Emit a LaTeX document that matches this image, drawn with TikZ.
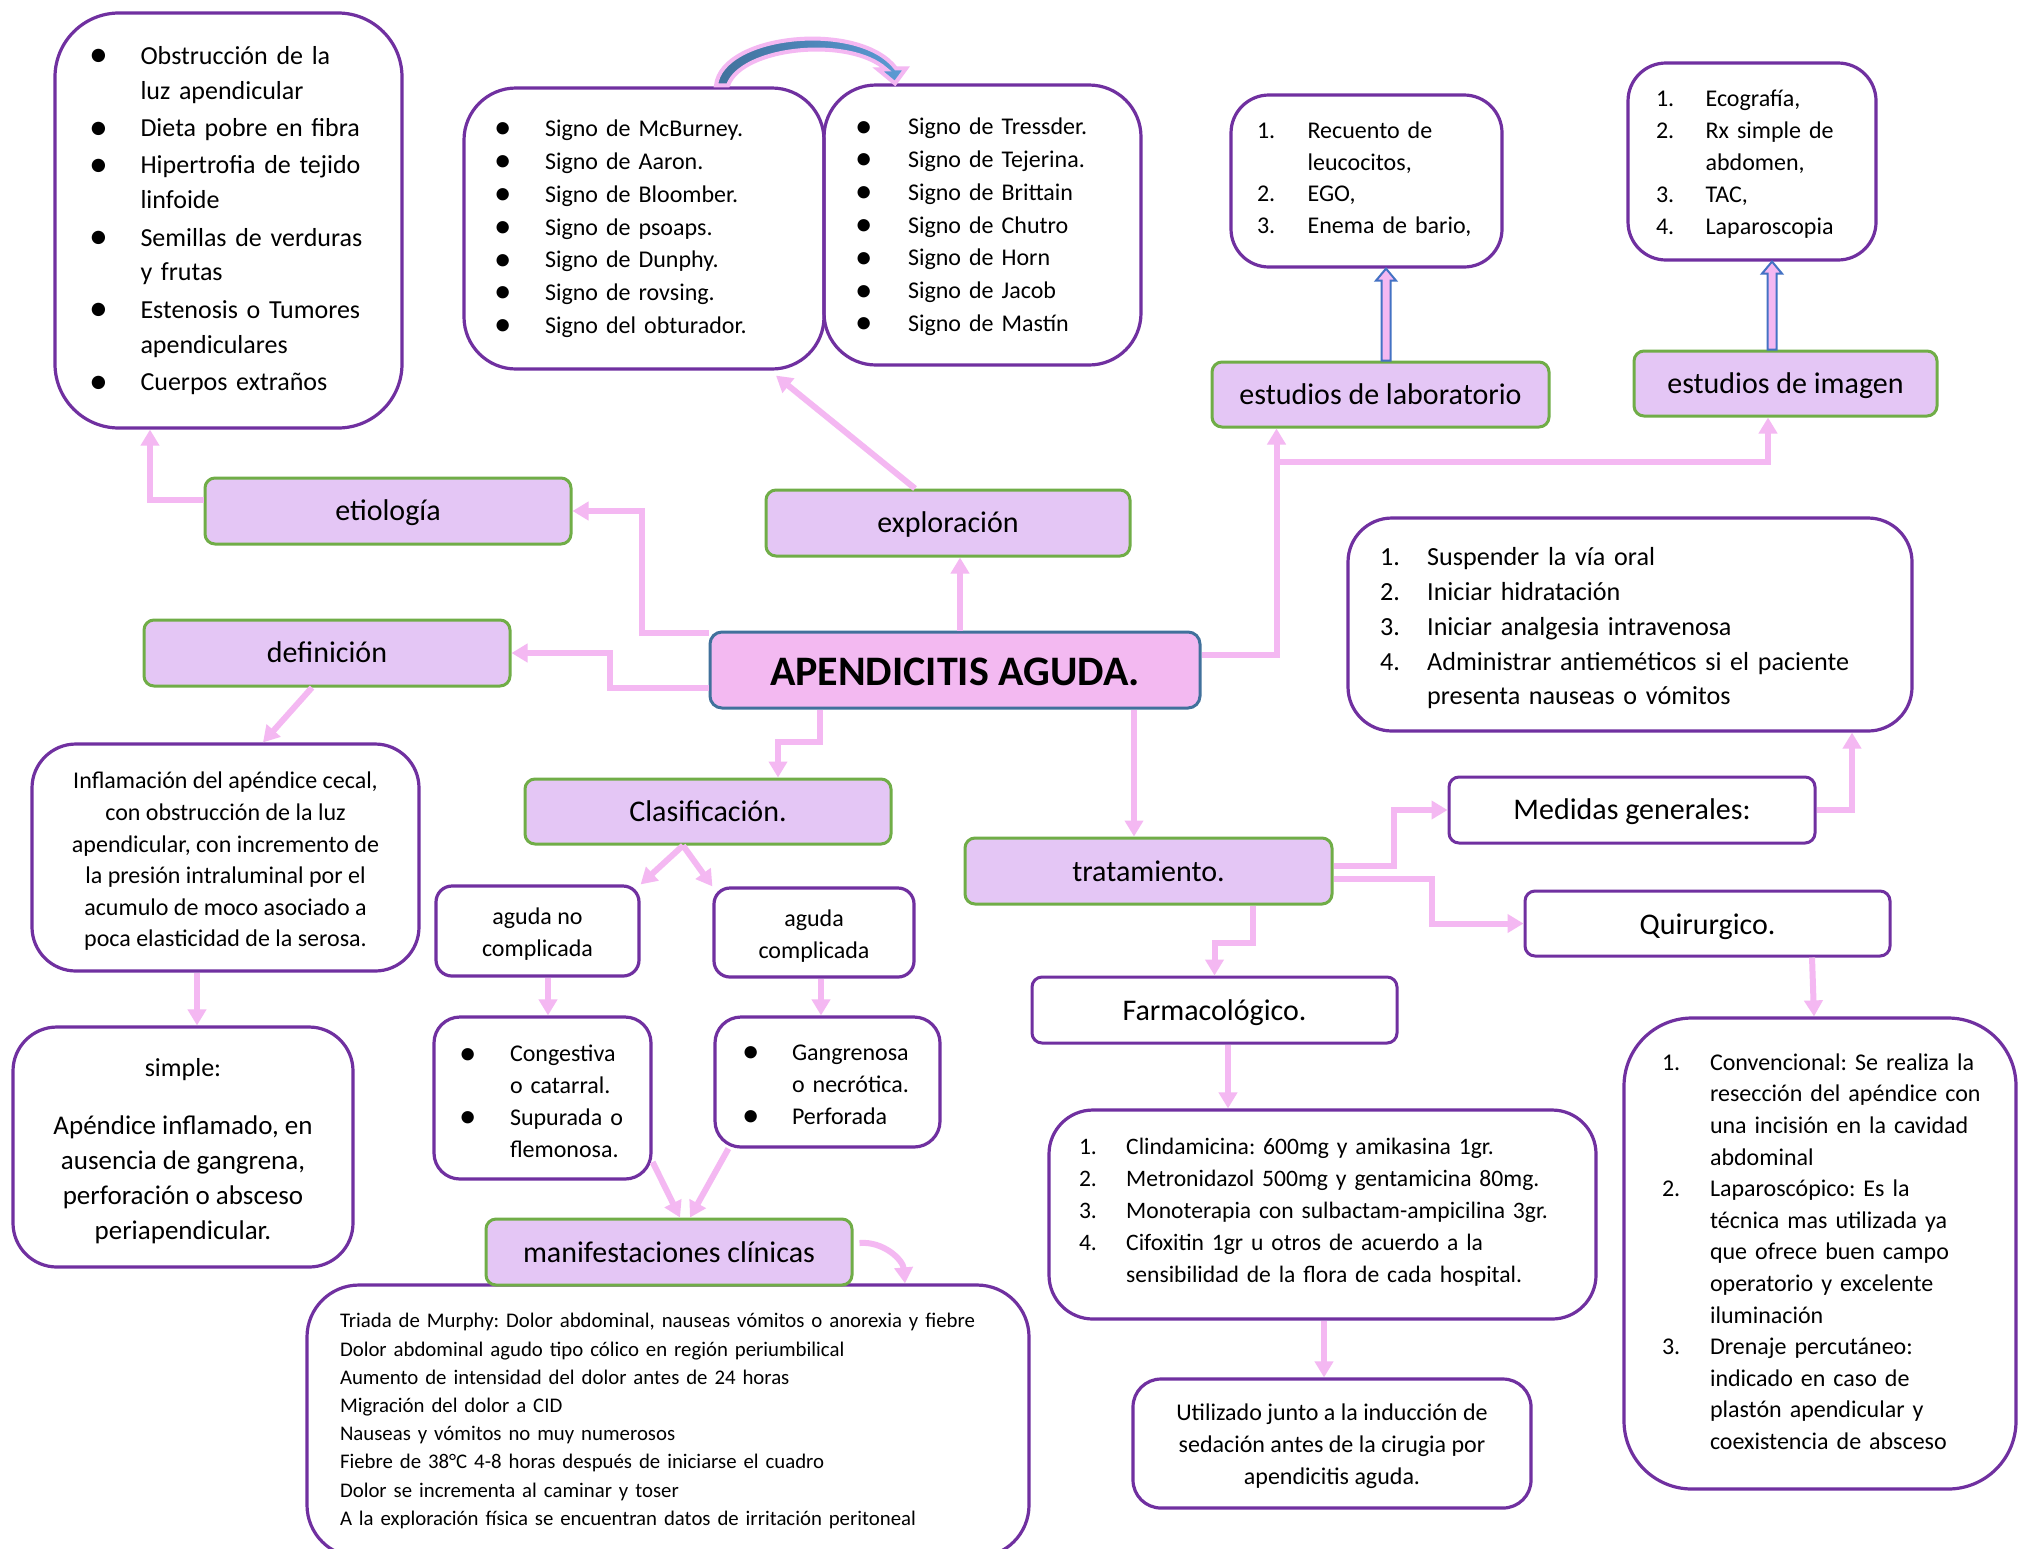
\documentclass[tikz,border=0pt]{standalone}
\usepackage{fontspec}
\setmainfont{Carlito}
\usetikzlibrary{arrows.meta,calc}
\frenchspacing

\definecolor{violeta}{HTML}{7030A0}
\definecolor{verde}{HTML}{70AD47}
\definecolor{lila}{HTML}{E4C6F5}
\definecolor{rosa}{HTML}{F3B9F1}
\definecolor{rosaflecha}{HTML}{F4B8F2}
\definecolor{azulborde}{HTML}{41719C}
\definecolor{azulflecha}{HTML}{4472C4}
\definecolor{azulA}{HTML}{41719C}
\definecolor{azulB}{HTML}{5B9BD5}

% large list bullet
\newcommand{\bul}{\raisebox{-0.2ex}{\scalebox{1.45}{•}}}
% content shifted vertically without changing its box size
\newcommand{\desp}[2]{\raisebox{#1}[\height][\depth]{#2}}
% centred block of lines
\newcommand{\bloquec}[2]{\desp{#1}{\begin{tabular}{@{}c@{}}#2\end{tabular}}}
% list with a marker column of given width
\newcommand{\bloquel}[3]{\desp{#1}{\begin{tabular}{@{}p{#2}@{}l@{}}#3\end{tabular}}}

\tikzset{
  cajalista/.style={draw=violeta, line width=1.6pt, rounded corners=#1, inner ysep=0pt, align=left},
  cajacentro/.style={draw=violeta, line width=1.6pt, rounded corners=#1, inner sep=0pt, align=center},
  tema/.style={draw=verde, fill=lila, line width=1.5pt, rounded corners=5pt, inner sep=0pt,
    font=\fontsize{15}{18}\selectfont},
  subtema/.style={draw=violeta, fill=white, line width=1.5pt, rounded corners=5pt, inner sep=0pt,
    font=\fontsize{15}{18}\selectfont},
  raiz/.style={draw=azulborde, fill=rosa, line width=1.5pt, rounded corners=6pt, inner sep=0pt,
    font=\bfseries\fontsize{21}{24}\selectfont},
  flecha/.style={draw=rosaflecha, line width=3pt, -{Triangle[width=9pt,length=8pt]}},
  bloque/.style={draw=azulflecha, fill=rosaflecha, line width=1pt, line join=miter},
}

\begin{document}
\begin{tikzpicture}[x=0.5pt, y=-0.5pt]
\useasboundingbox (0,0) rectangle (2021,1548);
\fill[white] (0,0) rectangle (2021,1548);

% ---------- text boxes ----------
\node[cajalista=32pt, minimum width=173.5pt, minimum height=207.5pt, inner xsep=17pt, text width=139.5pt,
      font=\fontsize{13}{17.4}\selectfont] (etioL) at (228.5,220.5) {%
\bloquel{0pt}{25.75pt}{%
\bul & Obstrucción de la\\ & luz apendicular\\[1.3pt]
\bul & Dieta pobre en fibra\\[1.3pt]
\bul & Hipertrofia de tejido\\ & linfoide\\[1.3pt]
\bul & Semillas de verduras\\ & y frutas\\[1.3pt]
\bul & Estenosis o Tumores\\ & apendiculares\\[1.3pt]
\bul & Cuerpos extraños}};

\node[cajalista=26pt, minimum width=180pt, minimum height=140.5pt, inner xsep=15pt, text width=150pt,
      font=\fontsize{12}{16.4}\selectfont] (sig1) at (644,228.5) {%
\bloquel{0pt}{25.5pt}{%
\bul & Signo de McBurney.\\
\bul & Signo de Aaron.\\
\bul & Signo de Bloomber.\\
\bul & Signo de psoaps.\\
\bul & Signo de Dunphy.\\
\bul & Signo de rovsing.\\
\bul & Signo del obturador.}};

\node[cajalista=26pt, minimum width=158.5pt, minimum height=140pt, inner xsep=15.5pt, text width=127.5pt,
      font=\fontsize{12}{16.4}\selectfont] (sig2) at (982.5,225) {%
\bloquel{-0.8pt}{26.5pt}{%
\bul & Signo de Tressder.\\
\bul & Signo de Tejerina.\\
\bul & Signo de Brittain\\
\bul & Signo de Chutro\\
\bul & Signo de Horn\\
\bul & Signo de Jacob\\
\bul & Signo de Mastín}};

\node[cajalista=19pt, minimum width=135.5pt, minimum height=86pt, inner xsep=13pt, text width=109.5pt,
      font=\fontsize{12}{15.8}\selectfont] (labL) at (1366.5,181) {%
\bloquel{0.6pt}{25.3pt}{%
1. & Recuento de\\ & leucocitos,\\
2. & EGO,\\
3. & Enema de bario,}};

\node[cajalista=19pt, minimum width=124pt, minimum height=98.5pt, inner xsep=14pt, text width=96pt,
      font=\fontsize{12}{15.9}\selectfont] (imgL) at (1752,161.5) {%
\bloquel{-1.3pt}{24.8pt}{%
1. & Ecografía,\\
2. & Rx simple de\\ & abdomen,\\
3. & TAC,\\
4. & Laparoscopia}};

\node[cajalista=22pt, minimum width=282pt, minimum height=106.5pt, inner xsep=16pt, text width=250pt,
      font=\fontsize{13.05}{17.4}\selectfont] (medL) at (1630,624.5) {%
\bloquel{-1.9pt}{23.6pt}{%
1. & Suspender la vía oral\\
2. & Iniciar hidratación\\
3. & Iniciar analgesia intravenosa\\
4. & Administrar antieméticos si el paciente\\ & presenta nauseas o vómitos}};

\node[cajacentro=22pt, minimum width=193.5pt, minimum height=113.5pt,
      font=\fontsize{12}{15.8}\selectfont] (defT) at (225.5,857.5) {%
\bloquec{-2pt}{Inflamación del apéndice cecal,\\ con obstrucción de la luz\\ apendicular, con incremento de\\
la presión intraluminal por el\\ acumulo de moco asociado a\\ poca elasticidad de la serosa.}};

\node[cajacentro=22pt, minimum width=170pt, minimum height=120pt,
      font=\fontsize{13.5}{17.4}\selectfont] (simple) at (183,1147) {%
\bloquec{-2pt}{{\fontsize{13}{17.4}\selectfont simple:}\\[11.5pt]
Apéndice inflamado, en\\ ausencia de gangrena,\\ perforación o absceso\\ periapendicular.}};

\node[cajacentro=8pt, minimum width=101.5pt, minimum height=45pt,
      font=\fontsize{12}{16}\selectfont] (agNo) at (537.5,931) {\bloquec{-1.3pt}{aguda no\\ complicada}};
\node[cajacentro=8pt, minimum width=100pt, minimum height=44.5pt,
      font=\fontsize{12}{16}\selectfont] (agC) at (814,932.5) {\bloquec{-2pt}{aguda\\ complicada}};

\node[cajalista=13pt, minimum width=108.5pt, minimum height=81pt, inner xsep=12.5pt, text width=83.5pt,
      font=\fontsize{12}{15.9}\selectfont] (cong) at (542.5,1098) {%
\bloquel{-2.6pt}{25.5pt}{%
\bul & Congestiva\\ & o catarral.\\
\bul & Supurada o\\ & flemonosa.}};

\node[cajalista=13pt, minimum width=112.5pt, minimum height=65pt, inner xsep=13.5pt, text width=85.5pt,
      font=\fontsize{12}{15.9}\selectfont] (gang) at (827.5,1082) {%
\bloquel{-2pt}{25pt}{%
\bul & Gangrenosa\\ & o necrótica.\\
\bul & Perforada}};

\node[cajalista=26pt, minimum width=361pt, minimum height=136pt, inner xsep=16.5pt, text width=328pt,
      font=\fontsize{10.4}{14.1}\selectfont] (manifT) at (668,1421) {%
\bloquel{0pt}{0pt}{%
& Triada de Murphy: Dolor abdominal, nauseas vómitos o anorexia y fiebre\\
& Dolor abdominal agudo tipo cólico en región periumbilical\\
& Aumento de intensidad del dolor antes de 24 horas\\
& Migración del dolor a CID\\
& Nauseas y vómitos no muy numerosos\\
& Fiebre de 38°C 4-8 horas después de iniciarse el cuadro\\
& Dolor se incrementa al caminar y toser\\
& A la exploración física se encuentran datos de irritación peritoneal}};

\node[cajalista=22pt, minimum width=273.5pt, minimum height=104.5pt, inner xsep=15pt, text width=243.5pt,
      font=\fontsize{11.8}{16}\selectfont] (anti) at (1322.5,1214.5) {%
\bloquel{1.3pt}{23.6pt}{%
1. & Clindamicina: 600mg y amikasina 1gr.\\
2. & Metronidazol 500mg y gentamicina 80mg.\\
3. & Monoterapia con sulbactam-ampicilina 3gr.\\
4. & Cifoxitin 1gr u otros de acuerdo a la\\ & sensibilidad de la flora de cada hospital.}};

\node[cajacentro=14pt, minimum width=199pt, minimum height=64.5pt,
      font=\fontsize{12}{16}\selectfont] (util) at (1332,1443.5) {%
\bloquec{-1.5pt}{Utilizado junto a la inducción de\\ sedación antes de la cirugia por\\ apendicitis aguda.}};

\node[cajalista=34pt, minimum width=196pt, minimum height=235.5pt, inner xsep=19pt, text width=158pt,
      font=\fontsize{12}{15.8}\selectfont] (quirL) at (1820,1253.5) {%
\bloquel{0pt}{24pt}{%
1. & Convencional: Se realiza la\\ & resección del apéndice con\\ & una incisión en la cavidad\\ & abdominal\\
2. & Laparoscópico: Es la\\ & técnica mas utilizada ya\\ & que ofrece buen campo\\ & operatorio y excelente\\ & iluminación\\
3. & Drenaje percutáneo:\\ & indicado en caso de\\ & plastón apendicular y\\ & coexistencia de absceso}};

% ---------- topic boxes ----------
\node[tema, minimum width=168.5pt, minimum height=32.5pt] (labT) at (1380.5,394.5) {estudios de laboratorio};
\node[tema, minimum width=151.5pt, minimum height=32.5pt] (imgT) at (1785.5,383.5) {\desp{-1pt}{estudios de imagen}};
\node[tema, minimum width=183pt, minimum height=33pt] (etio) at (388,511) {\desp{-1pt}{etiología}};
\node[tema, minimum width=182pt, minimum height=33pt] (explo) at (948,523) {\desp{-0.6pt}{exploración}};
\node[tema, minimum width=183pt, minimum height=33pt] (def) at (327,653) {\desp{0.6pt}{definición}};
\node[tema, minimum width=183pt, minimum height=32.5pt] (clasif) at (708,811.5) {Clasificación.};
\node[tema, minimum width=183.5pt, minimum height=33pt] (trat) at (1148.5,871) {tratamiento.};
\node[tema, minimum width=183pt, minimum height=33pt] (manif) at (669,1252) {manifestaciones clínicas};
\node[subtema, minimum width=183pt, minimum height=33pt] (medG) at (1632,810) {\desp{-1pt}{Medidas generales:}};
\node[subtema, minimum width=182.5pt, minimum height=32.5pt] (quir) at (1707.5,923.5) {\desp{-1.5pt}{Quirurgico.}};
\node[subtema, minimum width=182.5pt, minimum height=33pt] (farm) at (1214.5,1010) {\desp{-1.3pt}{Farmacológico.}};
\node[raiz, minimum width=245pt, minimum height=38pt] (root) at (955,670) {\desp{-1pt}{APENDICITIS AGUDA.}};

% ---------- connectors ----------
\draw[flecha] ([yshift=-1pt]root.north west) -- ++(-67,0) |- (etio.east);
\draw[flecha] ([yshift=-9pt]root.west) -- ++(-99,0) |- (def.east);
\draw[flecha] ([yshift=5.5pt]etio.west) -| ([xshift=-39.25pt]etioL.south);
\draw[flecha] ([xshift=2.5pt]root.north) -- ([xshift=2.5pt]root.north |- explo.south);
\draw[flecha] ([xshift=-16.5pt]explo.north) -- ([xshift=66pt,yshift=-2.5pt]sig1.south);

\draw[flecha] ([yshift=7.5pt]root.east) -- ++(75,0) coordinate (jn) -- (jn |- labT.south);
\coordinate (jb) at (jn |- 0,462);
\draw[flecha] (jb) -| ([xshift=-8.75pt]imgT.south);

\draw[flecha] ([xshift=-67.5pt]root.south) -- ++(0,32) -| ([xshift=35pt]clasif.north);
\draw[flecha] ([xshift=89.5pt]root.south) -- ([xshift=89.5pt]root.south |- trat.north);

\draw[flecha] ([xshift=-7.5pt]def.south) -- ([xshift=18.75pt]defT.north);
\draw[flecha] ([xshift=-14.25pt]defT.south) -- ([xshift=-14.25pt]defT.south |- simple.north);

\draw[flecha] ([xshift=-12.5pt]clasif.south) -- (agNo.north east);
\draw[flecha] ([xshift=-12.5pt]clasif.south) -- (agC.north west);
\draw[flecha] ([xshift=5.25pt]agNo.south) -- ([xshift=5.25pt]agNo.south |- cong.north);
\draw[flecha] ([xshift=3.5pt]agC.south) -- ([xshift=3.5pt]agC.south |- gang.north);
\draw[flecha] ([yshift=-32pt]cong.east) -- ([xshift=5.5pt]manif.north);
\draw[flecha] ([xshift=7.5pt]gang.south west) -- ([xshift=10.5pt]manif.north);
\draw[flecha] ([xshift=3pt,yshift=4.5pt]manif.east) to[out=5,in=95] ([xshift=118.5pt]manifT.north);

\draw[flecha] ([yshift=2.5pt]trat.east) -- ++(60,0) |- (medG.west);
\draw[flecha] ([yshift=-4pt]trat.east) -- ++(98,0) |- (quir.west);
\draw[flecha] (medG.east) -| ([xshift=111pt]medL.south);
\draw[flecha] ([xshift=52.25pt]quir.south) -- ([xshift=-3pt]quirL.north);
\draw[flecha] ([xshift=52.25pt]trat.south) -- ++(0,37) -| (farm.north);
\draw[flecha] ([xshift=6.75pt]farm.south) -- ([xshift=6.75pt]farm.south |- anti.north);
\draw[flecha] ([xshift=0.75pt]anti.south) -- ([xshift=0.75pt]anti.south |- util.north);

% block arrows to the study lists
\coordinate (la) at ([xshift=2.75pt]labT.north);
\coordinate (lb) at (la |- labL.south);
\draw[bloque] ($(la)+(-4.5,0)$) -- ($(lb)+(-4.5,12)$) -- ($(lb)+(-10,12)$) -- (lb)
  -- ($(lb)+(10,12)$) -- ($(lb)+(4.5,12)$) -- ($(la)+(4.5,0)$) -- cycle;
\coordinate (ia) at ([xshift=-6.75pt]imgT.north);
\coordinate (ib) at (ia |- imgL.south);
\draw[bloque] ($(ia)+(-4.5,0)$) -- ($(ib)+(-4.5,12)$) -- ($(ib)+(-10,12)$) -- (ib)
  -- ($(ib)+(10,12)$) -- ($(ib)+(4.5,12)$) -- ($(ia)+(4.5,0)$) -- cycle;

% curved arrow joining the two sign lists
\coordinate (ca) at ([xshift=39pt]sig1.north);
\coordinate (cb) at ([xshift=-43.75pt]sig2.north);
\draw[draw=rosaflecha, line width=2pt, line join=miter, left color=azulA, right color=azulB]
  ($(ca)+(-6,-1)$) .. controls ($(ca)+(0,-53)$) and ($(cb)+(-35,-63)$) .. ($(cb)+(1,-15)$)
  -- ($(cb)+(11,-15)$) -- (cb) -- ($(cb)+(-17,-14)$) -- ($(cb)+(-9,-14)$)
  .. controls ($(cb)+(-45,-47)$) and ($(ca)+(20,-40)$) .. ($(ca)+(6,-1)$) -- cycle;
\end{tikzpicture}
\end{document}
